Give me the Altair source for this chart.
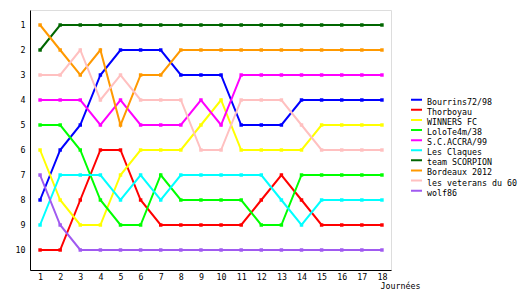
import altair as alt
import pandas as pd

journees = list(range(1, 19))
teams = ["Bourrins72/98", "Thorboyau", "WINNERS FC", "LoloTe4m/38", "S.C.ACCRA/99",
         "Les Claques", "team SCORPION", "Bordeaux 2012", "les veterans du 60", "wolf86"]
colors = ["#0000ff", "#ff0000", "#ffff00", "#00ff00", "#ff00ff",
          "#00ffff", "#006600", "#ff9900", "#ffc0c0", "#a05af0"]

bourrins = [8, 6, 5, 3, 2, 2, 2, 3, 3, 3, 5, 5, 5, 4, 4, 4, 4, 4]
thorboyau = [10, 10, 8, 6, 6, 8, 9, 9, 9, 9, 9, 8, 7, 8, 9, 9, 9, 9]
winners = [6, 8, 9, 9, 7, 6, 6, 6, 5, 4, 6, 6, 6, 6, 5, 5, 5, 5]
lolo = [5, 5, 6, 8, 9, 9, 7, 8, 8, 8, 8, 9, 9, 7, 7, 7, 7, 7]
accra = [4, 4, 4, 5, 4, 5, 5, 5, 4, 5, 3, 3, 3, 3, 3, 3, 3, 3]
claques = [9, 7, 7, 7, 8, 7, 8, 7, 7, 7, 7, 7, 8, 9, 8, 8, 8, 8]
scorpion = [2, 1, 1, 1, 1, 1, 1, 1, 1, 1, 1, 1, 1, 1, 1, 1, 1, 1]
bordeaux = [1, 2, 3, 2, 5, 3, 3, 2, 2, 2, 2, 2, 2, 2, 2, 2, 2, 2]
veterans = [3, 3, 2, 4, 3, 4, 4, 4, 6, 6, 4, 4, 4, 5, 6, 6, 6, 6]
wolf = [7, 9, 10, 10, 10, 10, 10, 10, 10, 10, 10, 10, 10, 10, 10, 10, 10, 10]

series = [bourrins, thorboyau, winners, lolo, accra, claques, scorpion, bordeaux, veterans, wolf]
y_ticks = list(range(1, 11))

rows = []
for idx, (team, vals) in enumerate(zip(teams, series)):
    for j, v in zip(journees, vals):
        rows.append({"equipe": team, "journee": j, "rang": v, "ordre": idx})
df = pd.DataFrame(rows)

FONT = "DejaVu Sans Mono"
FS = 8.3

chart = alt.Chart(df).mark_line(
    strokeWidth=2,
    point=alt.OverlayMarkDef(shape="square", size=12, filled=True, opacity=1),
).encode(
    x=alt.X("journee:Q", scale=alt.Scale(domain=[0.5, 18.45], nice=False, zero=False),
            axis=alt.Axis(values=journees, title="Journées", ticks=False, grid=False,
                          domainColor="black", domainWidth=1, labelPadding=2,
                          labelFont=FONT, labelFontSize=FS, labelColor="black",
                          titleFont=FONT, titleFontSize=FS, titleFontWeight="normal",
                          titleColor="black", titleX=350, titleY=11,
                          titleAlign="left", titleBaseline="top", labelFlush=False)),
    y=alt.Y("rang:Q", scale=alt.Scale(domain=[10.8, 0.4], nice=False, zero=False),
            axis=alt.Axis(values=y_ticks, title=None, ticks=False, grid=False,
                          domainColor="black", domainWidth=1, labelPadding=5,
                          labelFont=FONT, labelFontSize=FS, labelColor="black",
                          labelFlush=False)),
    color=alt.Color("equipe:N", sort=teams,
                    scale=alt.Scale(domain=teams, range=colors),
                    legend=alt.Legend(title=None, orient="none", legendX=380, legendY=88,
                                      symbolType="M-1,-0.55L1,-0.55", symbolSize=121,
                                      symbolStrokeWidth=2, clipHeight=9.5,
                                      labelFont=FONT, labelFontSize=FS, labelColor="black",
                                      labelBaseline="middle", labelOffset=4, rowPadding=-0.9,
                                      padding=0, symbolOffset=0)),
    detail="equipe:N",
    order="journee:Q",
).properties(
    width=361, height=260,
    autosize=alt.AutoSizeParams(type="none"),
    padding={"left": 30, "top": 10, "right": 139, "bottom": 30},
).configure_view(stroke=None).configure(background="white")

chart.save("out.html", embed_options={"renderer": "svg", "actions": False})
